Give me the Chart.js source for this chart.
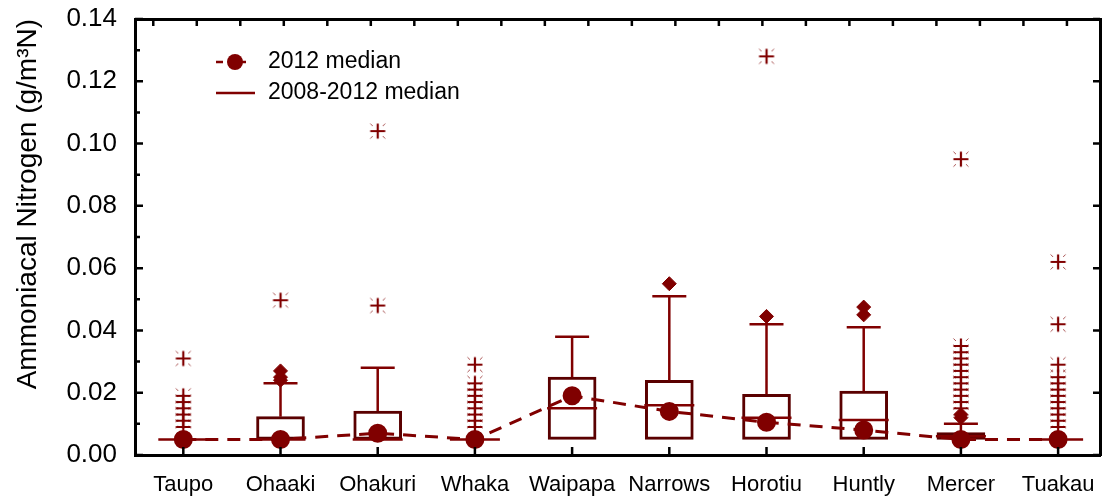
<!DOCTYPE html>
<html>
<head>
<meta charset="utf-8">
<title>Ammoniacal Nitrogen</title>
<script src="https://cdn.jsdelivr.net/npm/chart.js@4.4.0/dist/chart.umd.min.js"></script>
<style>
    html, body { margin: 0; padding: 0; background: #fff; }
    canvas { display: block; }
</style>
</head>
<body>
<canvas id="chart" width="1104" height="504"></canvas>
<script>
const sites = ['Taupo', 'Ohaaki', 'Ohakuri', 'Whaka', 'Waipapa', 'Narrows', 'Horotiu', 'Huntly', 'Mercer', 'Tuakau'];

// 2008-2012 box plot values
const boxLow = [0.005, 0.005, 0.005, 0.005, 0.005, 0.005, 0.005, 0.005, 0.005, 0.005];
const boxHigh = [0.005, 0.0123, 0.0141, 0.005, 0.025, 0.024, 0.0195, 0.0205, 0.0072, 0.005];
const median0812 = [0.005, 0.005, 0.005, 0.005, 0.015, 0.016, 0.012, 0.0112, 0.006, 0.005];
const whiskerHigh = [null, 0.023, 0.028, null, 0.038, 0.051, 0.042, 0.041, 0.010, null];

// 2012 medians
const median2012 = [0.005, 0.005, 0.007, 0.005, 0.019, 0.014, 0.0105, 0.008, 0.005, 0.005];

// points beyond the whiskers
const extremes = [[], [0.027, 0.025, 0.024], [], [], [], [0.055], [0.0445], [0.0475, 0.045], [0.013, 0.012], []];
const outliers = [
    [0.031, 0.019, 0.017, 0.015, 0.013, 0.011, 0.009],
    [0.0497],
    [0.104, 0.048],
    [0.029, 0.023, 0.021, 0.019, 0.017, 0.015, 0.013, 0.011, 0.009],
    [],
    [],
    [0.128],
    [],
    [0.095, 0.035, 0.033, 0.031, 0.029, 0.027, 0.025, 0.023, 0.021, 0.019, 0.017, 0.015],
    [0.062, 0.042, 0.029, 0.025, 0.023, 0.021, 0.019, 0.017, 0.015, 0.013, 0.011, 0.009]
];

const yTicks = [0, 0.02, 0.04, 0.06, 0.08, 0.10, 0.12, 0.14];
const yMinor = [0.01, 0.03, 0.05, 0.07, 0.09, 0.11, 0.13];

const red = '#800000';
const darkRed = '#5a0000';
const fontFamily = '"Liberation Sans", Arial, sans-serif';

function makeAsterisk() {
    const c = document.createElement('canvas');
    c.width = 20;
    c.height = 20;
    const g = c.getContext('2d');
    g.strokeStyle = red;
    g.lineWidth = 2.2;
    g.beginPath();
    g.moveTo(2.5, 10); g.lineTo(17.5, 10);
    g.moveTo(10, 2.5); g.lineTo(10, 17.5);
    g.stroke();
    g.lineWidth = 1;
    g.strokeStyle = 'rgba(128,0,0,0.7)';
    g.beginPath();
    [[-1, -1], [1, -1], [-1, 1], [1, 1]].forEach(([dx, dy]) => {
        g.moveTo(10 + dx * 5, 10 + dy * 5);
        g.lineTo(10 + dx * 7.5, 10 + dy * 7.5);
    });
    g.stroke();
    return c;
}

// no extra padding from overflowing labels
function fixSize(w, h) {
    return scale => {
        if (w !== null) scale.width = w;
        if (h !== null) scale.height = h;
        scale.paddingTop = 0;
        scale.paddingBottom = 0;
        scale.paddingLeft = 0;
        scale.paddingRight = 0;
    };
}

// whisker stems as line pieces split by gaps
let stems = [];
sites.forEach((s, i) => {
    if (whiskerHigh[i] !== null) {
        stems.push({x: i, y: boxHigh[i]}, {x: i, y: whiskerHigh[i]}, {x: i, y: null});
    }
});

let caps = [];
sites.forEach((s, i) => {
    if (whiskerHigh[i] !== null) caps.push({x: i, y: whiskerHigh[i]});
});

let outlierPts = [];
outliers.forEach((list, i) => list.forEach(v => outlierPts.push({x: i, y: v})));
let extremePts = [];
extremes.forEach((list, i) => list.forEach(v => extremePts.push({x: i, y: v})));

// inward ticks on all four sides and the legend
const framePlugin = {
    id: 'frame',
    afterDraw(chart) {
        const {ctx, chartArea: a, scales} = chart;
        ctx.save();
        ctx.strokeStyle = '#000';
        ctx.lineWidth = 2.5;
        ctx.beginPath();
        scales.x.ticks.forEach(t => {
            const px = scales.x.getPixelForValue(t.value);
            ctx.moveTo(px, a.bottom); ctx.lineTo(px, a.bottom - 8);
        });
        scales.x2.ticks.forEach(t => {
            const px = scales.x2.getPixelForValue(t.value);
            ctx.moveTo(px, a.top); ctx.lineTo(px, a.top + 7);
        });
        yTicks.forEach(v => {
            const py = scales.y.getPixelForValue(v);
            ctx.moveTo(a.left, py); ctx.lineTo(a.left + 8, py);
            ctx.moveTo(a.right, py); ctx.lineTo(a.right - 7, py);
        });
        yMinor.forEach(v => {
            const py = scales.y.getPixelForValue(v);
            ctx.moveTo(a.left, py); ctx.lineTo(a.left + 5, py);
        });
        ctx.stroke();

        // legend
        const lx = a.left + 81;
        const tx = a.left + 133;
        const ly1 = a.top + 43;
        const ly2 = a.top + 74;
        ctx.strokeStyle = red;
        ctx.fillStyle = red;
        ctx.lineWidth = 2.5;
        ctx.setLineDash([7, 5]);
        ctx.beginPath();
        ctx.moveTo(lx, ly1); ctx.lineTo(lx + 30, ly1);
        ctx.stroke();
        ctx.setLineDash([]);
        ctx.beginPath();
        ctx.arc(lx + 19, ly1, 8, 0, Math.PI * 2);
        ctx.fill();
        ctx.beginPath();
        ctx.moveTo(lx, ly2); ctx.lineTo(lx + 39, ly2);
        ctx.stroke();
        ctx.fillStyle = '#000';
        ctx.font = '23px ' + fontFamily;
        ctx.textBaseline = 'middle';
        ctx.fillText('2012 median', tx, ly1);
        ctx.fillText('2008-2012 median', tx, ly2);
        ctx.restore();
    }
};

const ctx = document.getElementById('chart').getContext('2d');
const chart = new Chart(ctx, {
    type: 'bar',
    data: {
        datasets: [
            {
                type: 'line',
                label: '2012 median',
                data: sites.map((s, i) => ({x: i, y: median2012[i]})),
                borderColor: red,
                borderWidth: 3,
                borderDash: [13, 9],
                pointRadius: 8,
                pointBackgroundColor: red,
                pointBorderColor: red,
                tension: 0,
                order: 0
            },
            {
                type: 'scatter',
                label: 'outliers',
                data: outlierPts,
                pointStyle: makeAsterisk(),
                pointRadius: 10,
                order: 1
            },
            {
                type: 'scatter',
                label: 'extremes',
                data: extremePts,
                pointStyle: 'rectRot',
                pointRadius: 7,
                pointBackgroundColor: red,
                pointBorderColor: red,
                order: 1
            },
            {
                type: 'scatter',
                label: '2008-2012 median',
                data: sites.map((s, i) => ({x: i, y: median0812[i]})),
                pointStyle: 'line',
                pointRadius: 25,
                pointBorderWidth: 2.5,
                pointBorderColor: red,
                order: 2
            },
            {
                type: 'scatter',
                label: 'caps',
                data: caps,
                pointStyle: 'line',
                pointRadius: 17,
                pointBorderWidth: 2.5,
                pointBorderColor: red,
                order: 3
            },
            {
                type: 'line',
                label: 'whiskers',
                data: stems,
                borderColor: red,
                borderWidth: 2.5,
                pointRadius: 0,
                spanGaps: false,
                order: 4
            },
            {
                type: 'bar',
                label: 'boxes',
                data: sites.map((s, i) => ({x: i, y: [boxLow[i], boxHigh[i]]})),
                backgroundColor: '#fff',
                borderColor: darkRed,
                borderWidth: 3,
                borderSkipped: false,
                barThickness: 48,
                order: 5
            }
        ]
    },
    options: {
        responsive: false,
        animation: false,
        events: [],
        layout: { padding: 0, autoPadding: false },
        plugins: {
            legend: { display: false },
            tooltip: { enabled: false }
        },
        scales: {
            x: {
                type: 'linear',
                position: 'bottom',
                offset: false,
                min: -0.497,
                max: 9.431,
                afterBuildTicks: scale => {
                    scale.ticks = sites.map((s, i) => ({value: i}));
                },
                afterFit: fixSize(null, 49),
                ticks: {
                    callback: v => sites[v],
                    color: '#000',
                    padding: 17,
                    maxRotation: 0,
                    autoSkip: false,
                    font: { family: fontFamily, size: 22 }
                },
                grid: { display: false, drawTicks: false },
                border: { display: true, color: '#000', width: 3 }
            },
            x2: {
                type: 'linear',
                position: 'top',
                offset: false,
                min: -0.42,
                max: 21.76,
                afterBuildTicks: scale => {
                    scale.ticks = Array.from({length: 22}, (v, k) => ({value: k}));
                },
                afterFit: fixSize(null, 19),
                ticks: { display: false },
                grid: { display: false, drawTicks: false },
                border: { display: true, color: '#000', width: 3 }
            },
            y: {
                position: 'left',
                min: 0,
                max: 0.14,
                afterBuildTicks: scale => {
                    scale.ticks = yTicks.map(v => ({value: v}));
                },
                afterFit: fixSize(135, null),
                ticks: {
                    callback: v => v.toFixed(2),
                    color: '#000',
                    padding: 18,
                    font: { family: fontFamily, size: 26 }
                },
                title: {
                    display: true,
                    text: 'Ammoniacal Nitrogen (g/m³N)',
                    color: '#000',
                    align: 'end',
                    padding: { top: 11, bottom: 0 },
                    font: { family: fontFamily, size: 28 }
                },
                grid: { display: false, drawTicks: false },
                border: { display: true, color: '#000', width: 3 }
            },
            y2: {
                position: 'right',
                min: 0,
                max: 0.14,
                afterFit: fixSize(4, null),
                ticks: { display: false },
                grid: { display: false, drawTicks: false },
                border: { display: true, color: '#000', width: 3 }
            }
        }
    },
    plugins: [framePlugin]
});
</script>
</body>
</html>
